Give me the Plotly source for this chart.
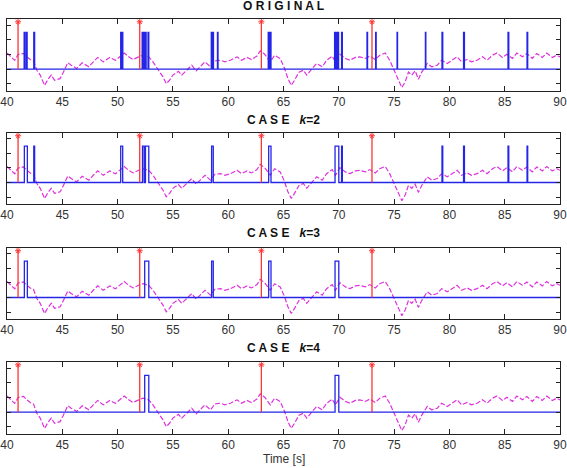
import plotly.graph_objects as go

# ---------------- data ----------------
sig_t = [40.0, 40.4, 40.7, 41.0, 41.5, 41.8, 42.1, 42.4, 42.7, 43.0, 43.4, 43.7, 44.0, 44.3, 44.8,
         45.1, 45.5, 45.8, 46.3, 46.8, 47.4, 47.8, 48.2, 48.7, 49.3, 49.8, 50.2, 50.6, 51.0, 51.4,
         51.9, 52.3, 52.8, 53.2, 53.7, 54.1, 54.4, 54.7, 55.0, 55.5, 55.8, 56.2, 56.7, 57.1, 57.6,
         57.9, 58.4, 58.8, 59.3, 59.7, 60.2, 60.8, 61.2, 61.7, 62.1, 62.6, 62.9, 63.3, 63.8, 64.2,
         64.7, 65.1, 65.4, 65.7, 66.0, 66.4, 66.8, 67.1, 67.6, 68.0, 68.5, 68.9, 69.4, 69.7, 70.1,
         70.6, 71.0, 71.5, 71.9, 72.4, 72.8, 73.3, 73.7, 74.2, 74.6, 75.1, 75.4, 75.7, 76.0, 76.3,
         76.6, 76.9, 77.2, 77.5, 78.0, 78.4, 78.9, 79.3, 79.8, 80.2, 80.7, 81.1, 81.6, 82.0, 82.5,
         83.0, 83.4, 83.9, 84.3, 84.8, 85.2, 85.7, 86.1, 86.6, 87.0, 87.5, 87.9, 88.4, 88.8, 89.3,
         89.7, 90.0]
sig_v = [1.1, 0.8, 0.6, 1.0, 1.07, 0.84, 0.66, 0.55, -0.07, -0.4, -1.1, -0.7, -0.4, -0.75, -0.64,
         -0.2, 0.45, 0.27, 0.05, 0.43, 0.16, 0.5, 0.8, 0.5, 0.8, 0.6, 0.84, 1.1, 0.84, 0.66,
         0.84, 0.95, 0.84, 0.5, -0.07, -0.52, -0.98, -0.75, -0.4, -0.14, -0.4, -0.11, 0.27, -0.11, 0.27,
         0.5, 0.16, 0.57, 0.61, 0.5, 0.61, 0.84, 0.61, 0.8, 0.66, 0.89, 1.25, 1.02, 0.5, 0.95,
         0.73, 0.05, -0.64, -1.1, -0.75, -0.2, -0.07, -0.4, 0.05, 0.39, 0.16, 0.61, 0.89, 0.5, 1.02,
         0.73, 0.61, 0.8, 0.84, 0.73, 0.89, 0.66, 0.95, 1.1, 0.61, -0.2, -0.75, -1.25, -0.86, -0.2,
         -0.4, -0.11, -0.68, -0.2, 0.39, 0.16, 0.27, 0.61, 0.39, 0.61, 0.84, 0.5, 0.66, 0.5, 0.61,
         0.84, 0.61, 0.95, 1.1, 0.8, 1.02, 0.73, 1.1, 0.84, 1.07, 0.73, 1.07, 0.8, 1.1, 0.8,
         0.95, 0.84]

event_t = [41, 52, 63, 73]
event_h = 3.22
pulse_h = 2.5

orig_start = [41.55, 41.75, 42.42, 50.28, 50.42, 52.22, 52.35, 52.52, 52.75, 58.47, 58.62, 59.03,
              63.62, 63.80, 69.62, 69.75, 69.90, 70.25, 72.55, 73.33, 75.27, 77.83, 79.33, 81.28,
              85.30, 87.02]
orig_end = [41.62, 41.82, 42.50, 50.33, 50.47, 52.29, 52.42, 52.58, 52.82, 58.55, 58.67, 59.08,
            63.70, 63.87, 69.70, 69.82, 69.98, 70.32, 72.60, 73.38, 75.31, 77.87, 79.40, 81.36,
            85.37, 87.08]
k2_start = [41.57, 42.42, 50.28, 52.25, 52.52, 58.50, 63.66, 69.66, 70.25, 79.33, 81.28, 85.30, 87.02]
k2_end = [41.84, 42.50, 50.46, 52.40, 52.82, 58.65, 63.87, 70.00, 70.32, 79.40, 81.36, 85.37, 87.08]
k3_start = [41.57, 52.45, 58.50, 63.66, 69.66]
k3_end = [41.84, 52.82, 58.65, 63.87, 70.00]
k4_start = [52.45, 69.66]
k4_end = [52.82, 70.00]

titles = ["<b>O R I G I N A L</b>",
          "<b>C A S E\u00a0\u00a0 <i>k</i>=2</b>",
          "<b>C A S E\u00a0\u00a0 <i>k</i>=3</b>",
          "<b>C A S E\u00a0\u00a0 <i>k</i>=4</b>"]
xticks = [40, 45, 50, 55, 60, 65, 70, 75, 80, 85, 90]
xlabel = "Time [s]"

# ---------------- layout geometry ----------------
W, H = 567, 468
ml, mr, mt, mb = 7, 7, 19, 34
ph = H - mt - mb
tops = [19, 133, 248, 362]
bots = [91, 204, 319, 434]
title_y = [6, 120, 233, 348]


def py(p):
    return (H - mb - p) / ph


BLUE = "#2525e8"
RED = "#ff3333"
MAG = "#dd33dd"

fig = go.Figure()
cases = [(orig_start, orig_end), (k2_start, k2_end), (k3_start, k3_end), (k4_start, k4_end)]

for i, (st, en) in enumerate(cases):
    xa = "x" if i == 0 else f"x{i+1}"
    ya = "y" if i == 0 else f"y{i+1}"
    # magenta signal
    fig.add_trace(go.Scatter(x=sig_t, y=sig_v, mode="lines", xaxis=xa, yaxis=ya,
                             line=dict(color=MAG, width=1.2, dash="5px,2px"), showlegend=False))
    # blue pulse train
    px_, py_ = [40], [0]
    for s, e in zip(st, en):
        px_ += [s, s, e, e]
        py_ += [0, pulse_h, pulse_h, 0]
    px_.append(90)
    py_.append(0)
    fig.add_trace(go.Scatter(x=px_, y=py_, mode="lines", xaxis=xa, yaxis=ya,
                             line=dict(color=BLUE, width=1.3), showlegend=False))
    # red stems
    sx, sy = [], []
    for t in event_t:
        sx += [t, t, None]
        sy += [0, event_h, None]
    fig.add_trace(go.Scatter(x=sx, y=sy, mode="lines", xaxis=xa, yaxis=ya,
                             line=dict(color=RED, width=1.3), showlegend=False))
    fig.add_trace(go.Scatter(x=event_t, y=[event_h] * len(event_t), mode="markers", xaxis=xa, yaxis=ya,
                             marker=dict(symbol="asterisk-open", size=5, color=RED,
                                         line=dict(color=RED, width=1)), showlegend=False))

layout = dict(width=W, height=H, margin=dict(l=ml, r=mr, t=mt, b=mb, autoexpand=False),
              paper_bgcolor="white", plot_bgcolor="white", hovermode=False,
              font=dict(family="Liberation Sans, Arial, sans-serif", size=12, color="#222"))
for i in range(4):
    kx = "xaxis" if i == 0 else f"xaxis{i+1}"
    ky = "yaxis" if i == 0 else f"yaxis{i+1}"
    ya = "y" if i == 0 else f"y{i+1}"
    xa = "x" if i == 0 else f"x{i+1}"
    layout[kx] = dict(domain=[0, 1], anchor=ya, range=[40, 90], tickvals=xticks,
                      ticks="inside", ticklen=5, tickcolor="#222", mirror="allticks",
                      showline=True, linecolor="#222", linewidth=1, showgrid=False, zeroline=False,
                      automargin=False, tickfont=dict(size=12, color="#333"))
    layout[ky] = dict(domain=[py(bots[i]), py(tops[i])], anchor=xa, range=[-1.48, 3.41],
                      tickvals=[-1, 0, 1, 2, 3], showticklabels=False, automargin=False,
                      ticks="inside", ticklen=4, tickcolor="#222", mirror="allticks",
                      showline=True, linecolor="#222", linewidth=1, showgrid=False, zeroline=False)
fig.update_layout(**layout)

for i in range(4):
    fig.add_annotation(text=titles[i], xref="paper", yref="paper", x=0.5, y=py(title_y[i]),
                       xanchor="center", yanchor="middle", showarrow=False,
                       font=dict(size=12, color="#111", family="Liberation Sans, Arial, sans-serif"))
fig.add_annotation(text=xlabel, xref="paper", yref="paper", x=0.5, y=py(459),
                   xanchor="center", yanchor="middle", showarrow=False,
                   font=dict(size=12, color="#333"))

fig.write_html("out.html", config={"displayModeBar": False, "staticPlot": True},
               post_script="document.body.style.margin='0';document.body.style.overflow='hidden';")
